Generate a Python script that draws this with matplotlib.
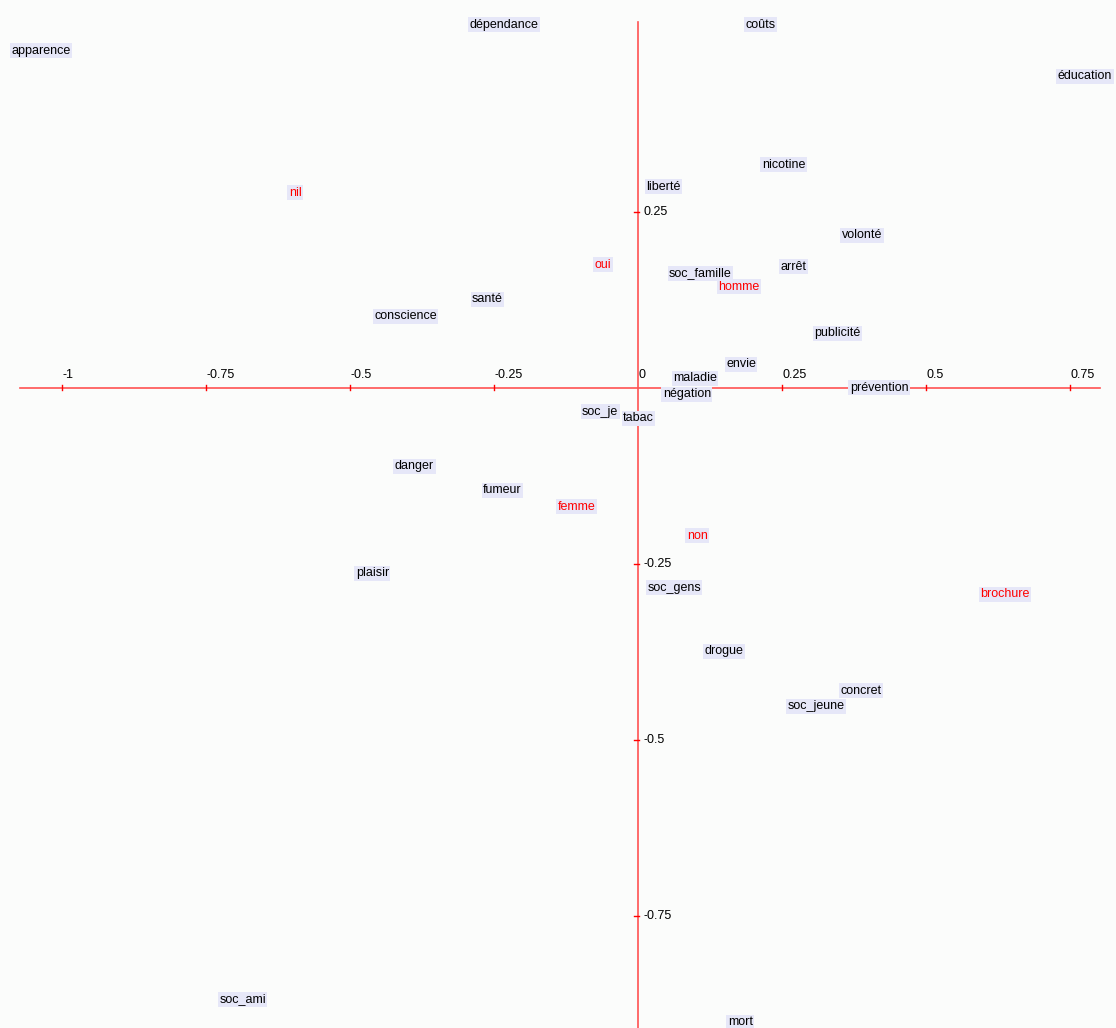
import matplotlib.pyplot as plt

# coordonnées des modalités (axe 1, axe 2)
mots = ['apparence', 'dépendance', 'coûts', 'éducation', 'nicotine', 'liberté',
        'volonté', 'soc_famille', 'arrêt', 'santé', 'conscience', 'publicité',
        'envie', 'maladie', 'négation', 'prévention', 'soc_je', 'tabac',
        'danger', 'fumeur', 'plaisir', 'soc_gens', 'drogue', 'concret',
        'soc_jeune', 'soc_ami', 'mort']
mots_x = [-1.088, -0.293, 0.186, 0.729, 0.215, 0.014,
          0.354, 0.054, 0.247, -0.288, -0.458, 0.306,
          0.153, 0.061, 0.043, 0.368, -0.097, -0.026,
          -0.422, -0.269, -0.490, 0.016, 0.116, 0.352,
          0.260, -0.727, 0.156]
mots_y = [0.479, 0.516, 0.516, 0.443, 0.317, 0.286,
          0.217, 0.163, 0.172, 0.126, 0.102, 0.078,
          0.034, 0.014, -0.009, 0.000, -0.034, -0.043,
          -0.111, -0.145, -0.263, -0.284, -0.374, -0.430,
          -0.452, -0.868, -0.901]

# variables supplémentaires (en rouge)
sup = ['nil', 'oui', 'homme', 'femme', 'non', 'brochure']
sup_x = [-0.606, -0.075, 0.139, -0.139, 0.085, 0.594]
sup_y = [0.277, 0.175, 0.144, -0.169, -0.210, -0.293]

graduations = [-1, -0.75, -0.5, -0.25, 0, 0.25, 0.5, 0.75]
grad_y = [0.25, -0.25, -0.5, -0.75]

fond = '#fbfcfb'
boite = '#e6e7f8'
rouge = '#ff5252'
police = ['Liberation Sans Narrow', 'Liberation Sans', 'DejaVu Sans']
taille = 9.0

fig = plt.figure(figsize=(11.16, 10.28), dpi=100, facecolor=fond)
ax = fig.add_axes([0, 0, 1, 1])
ax.set_facecolor(fond)
ax.set_xlim(-1.1076, 0.8299)
ax.set_ylim(-0.9091, 0.5511)
ax.axis('off')

# axes rouges
ax.plot([-1.073, 0.802], [0, 0], color=rouge, lw=1.2, zorder=1)
ax.plot([0, 0], [-0.95, 0.520], color=rouge, lw=1.2, zorder=1)

dx = 1 / 576
dy = 1 / 704
for g in graduations:
    if g != 0:
        ax.plot([g, g], [-2.5 * dy, 2.5 * dy], color='red', lw=1, zorder=2)
    ax.text(g + 1 * dx, 7 * dy, '%g' % g, ha='left', va='bottom',
            fontsize=taille, family=police, color='black', zorder=3)

for g in grad_y:
    ax.plot([-3.5 * dx, 1 * dx], [g, g], color='red', lw=1, zorder=2)
    ax.text(6 * dx, g, '%g' % g, ha='left', va='center', fontsize=taille,
            family=police, color='black', zorder=3)

for nom, x, y in zip(mots, mots_x, mots_y):
    ax.text(x, y, nom, ha='left', va='center', fontsize=taille, family=police,
            color='black', zorder=4,
            bbox=dict(boxstyle='square,pad=0.12', fc=boite, ec='none'))

for nom, x, y in zip(sup, sup_x, sup_y):
    ax.text(x, y, nom, ha='left', va='center', fontsize=taille, family=police,
            color='red', zorder=4,
            bbox=dict(boxstyle='square,pad=0.12', fc=boite, ec='none'))

fig.savefig('out.png', dpi=100, facecolor=fond)
